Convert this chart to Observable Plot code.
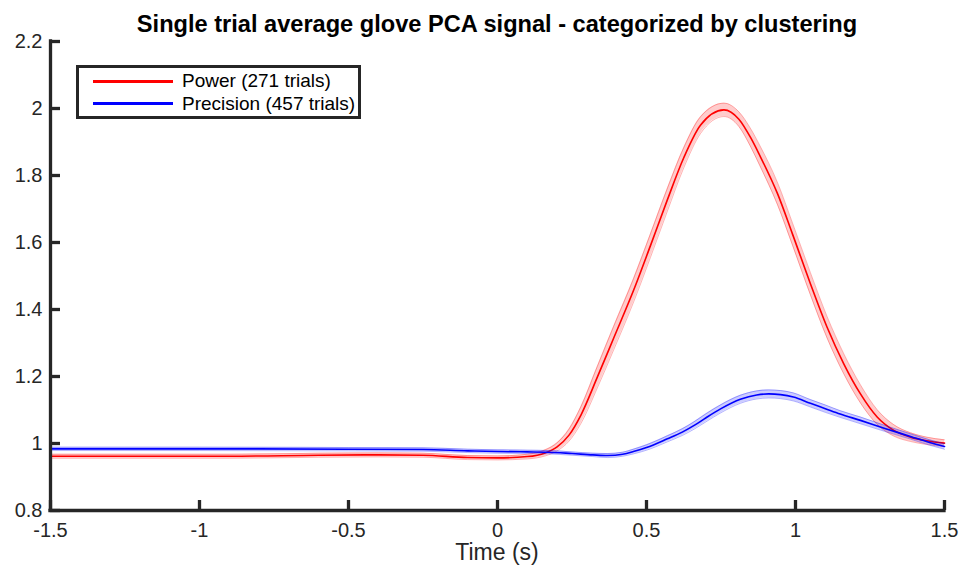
<!DOCTYPE html>
<html><head><meta charset="utf-8">
<script src="https://cdn.jsdelivr.net/npm/d3@7"></script>
<script src="https://cdn.jsdelivr.net/npm/@observablehq/plot@0.6"></script>
<style>
body{margin:0;background:#fff;}
#wrap{position:relative;width:961px;height:567px;font-family:"Liberation Sans",Arial,Helvetica,sans-serif;color:#262626;}
#wrap svg{position:absolute;left:0;top:0;}
.abs{position:absolute;white-space:nowrap;}
#title{left:47px;width:900px;top:13px;text-align:center;font-weight:bold;font-size:23.6px;line-height:23.6px;color:#000;}
#xlabel{left:397px;width:200px;top:545px;text-align:center;font-size:23px;line-height:14px;}
#legend{left:76px;top:65px;width:285px;height:54px;box-sizing:border-box;border:3px solid #262626;background:#fff;}
.lg-line{position:absolute;left:14px;width:80px;height:3px;}
.lg-text{position:absolute;left:103px;font-size:19px;line-height:19px;color:#000;}
</style>
</head><body>
<div id="wrap"></div>
<script>
// ---- data ----
const titleText = "Single trial average glove PCA signal - categorized by clustering";
const xLabelText = "Time (s)";
const seriesNames = ["Power (271 trials)", "Precision (457 trials)"];
const seriesColors = ["#ff0000", "#0000ff"];

const powerT   = [-1.5,-1.2,-0.9,-0.6,-0.4,-0.25,-0.1,0.0,0.1,0.16,0.2,0.24,0.28,0.335,0.39,0.457,0.513,0.569,0.625,0.681,0.76,0.81,0.85,0.88,0.94,0.99,1.05,1.106,1.162,1.218,1.274,1.33,1.386,1.44,1.5];
const powerV   = [0.962,0.962,0.962,0.965,0.966,0.965,0.958,0.957,0.961,0.972,0.990,1.025,1.085,1.198,1.315,1.458,1.590,1.725,1.853,1.950,1.996,1.968,1.912,1.860,1.745,1.625,1.477,1.347,1.238,1.148,1.079,1.039,1.019,1.008,1.001];
const powerSem = [0.006,0.006,0.006,0.006,0.006,0.006,0.006,0.006,0.007,0.009,0.012,0.018,0.025,0.032,0.035,0.035,0.035,0.034,0.030,0.025,0.020,0.022,0.027,0.030,0.033,0.033,0.033,0.032,0.030,0.027,0.022,0.017,0.013,0.011,0.010];

const precisionT   = [-1.5,-1.0,-0.5,-0.25,-0.1,0.0,0.1,0.17,0.25,0.32,0.37,0.42,0.456,0.5,0.57,0.62,0.66,0.7,0.75,0.815,0.87,0.91,0.95,0.993,1.05,1.1,1.15,1.218,1.3,1.386,1.45,1.5];
const precisionV   = [0.984,0.984,0.983,0.982,0.978,0.976,0.975,0.974,0.970,0.966,0.964,0.968,0.976,0.988,1.014,1.034,1.054,1.077,1.104,1.132,1.145,1.148,1.146,1.139,1.120,1.104,1.088,1.069,1.045,1.021,1.003,0.991];
const precisionSem = [0.005,0.005,0.005,0.005,0.005,0.005,0.005,0.005,0.005,0.005,0.006,0.006,0.007,0.008,0.009,0.010,0.011,0.012,0.012,0.012,0.012,0.012,0.012,0.012,0.011,0.011,0.010,0.010,0.009,0.008,0.008,0.008];

const xTicks = [-1.5,-1,-0.5,0,0.5,1,1.5];
const xTickLabels = ["-1.5","-1","-0.5","0","0.5","1","1.5"];
const yTicks = [0.8,1,1.2,1.4,1.6,1.8,2,2.2];
const yTickLabels = ["0.8","1","1.2","1.4","1.6","1.8","2","2.2"];
const xDomain = [-1.5, 1.5];
const yDomain = [0.8, 2.2];

// ---- build tables ----
const toRows = (T, V, S) => T.map((t, i) => ({t, v: V[i], lo: V[i] - S[i], hi: V[i] + S[i]}));
const series = [toRows(powerT, powerV, powerSem), toRows(precisionT, precisionV, precisionSem)];

const W = 961, H = 567, mL = 50, mR = 17, mT = 41, mB = 57;
const innerW = W - mL - mR, innerH = H - mT - mB;
const axisColor = "#262626";
const curve = "monotone-x";

const marks = [];
series.forEach((rows, k) => {
  const c = seriesColors[k];
  marks.push(Plot.areaY(rows, {x: "t", y1: "lo", y2: "hi", fill: c, fillOpacity: 0.2, curve}));
  marks.push(Plot.line(rows, {x: "t", y: "lo", stroke: c, strokeOpacity: 0.3, strokeWidth: 1, curve}));
  marks.push(Plot.line(rows, {x: "t", y: "hi", stroke: c, strokeOpacity: 0.3, strokeWidth: 1, curve}));
  marks.push(Plot.line(rows, {x: "t", y: "v", stroke: c, strokeWidth: 1.6, curve}));
});

marks.push(
  Plot.ruleX([xDomain[0]], {stroke: axisColor, strokeWidth: 3.3, strokeLinecap: "square"}),
  Plot.ruleY([yDomain[0]], {stroke: axisColor, strokeWidth: 3.3, strokeLinecap: "square"}),
  Plot.tickX(xTicks, {x: d => d, stroke: axisColor, strokeWidth: 3.3, insetTop: innerH - 10}),
  Plot.tickY(yTicks, {y: d => d, stroke: axisColor, strokeWidth: 3.3, insetRight: innerW - 10}),
  Plot.axisX(xTicks, {tickSize: 0, tickPadding: 12, tickFormat: (d) => xTickLabels[xTicks.indexOf(d)], label: null, fill: axisColor, fontSize: 20}),
  Plot.axisY(yTicks, {tickSize: 0, tickPadding: 8, tickFormat: (d) => yTickLabels[yTicks.indexOf(d)], label: null, fill: axisColor, fontSize: 20})
);

const chart = Plot.plot({
  width: W, height: H,
  marginLeft: mL, marginRight: mR, marginTop: mT, marginBottom: mB,
  style: {fontFamily: '"Liberation Sans", Arial, Helvetica, sans-serif', fontSize: "20px", background: "#fff", color: axisColor, overflow: "visible"},
  x: {domain: xDomain},
  y: {domain: yDomain},
  marks
});

const wrap = document.getElementById("wrap");
wrap.appendChild(chart);

const title = document.createElement("div");
title.id = "title"; title.className = "abs"; title.textContent = titleText;
wrap.appendChild(title);

const xl = document.createElement("div");
xl.id = "xlabel"; xl.className = "abs"; xl.textContent = xLabelText;
wrap.appendChild(xl);

const lg = document.createElement("div");
lg.id = "legend"; lg.className = "abs";
const rowTops = [12, 34];
const textTops = [3.2, 25.9];
seriesNames.forEach((name, k) => {
  const ln = document.createElement("div");
  ln.className = "lg-line"; ln.style.top = rowTops[k] + "px"; ln.style.background = seriesColors[k];
  const tx = document.createElement("div");
  tx.className = "lg-text"; tx.style.top = textTops[k] + "px"; tx.textContent = name;
  lg.appendChild(ln); lg.appendChild(tx);
});
wrap.appendChild(lg);
</script>
</body></html>
